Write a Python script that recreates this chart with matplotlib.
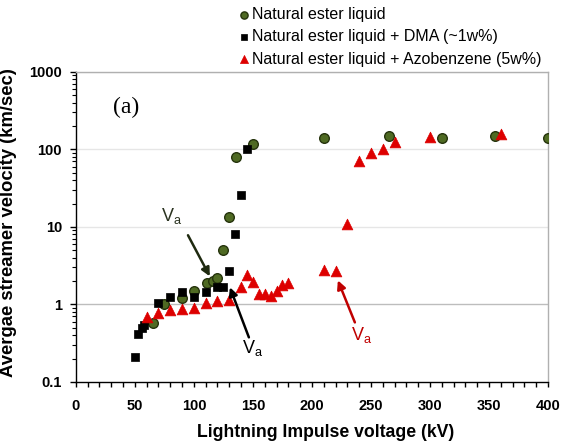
import matplotlib
matplotlib.use("Agg")
import matplotlib.pyplot as plt
from matplotlib.ticker import MultipleLocator, LogLocator, NullFormatter

plt.rcParams['font.family'] = ['Liberation Sans', 'DejaVu Sans']

# Data
ne_x = [65, 75, 90, 100, 111, 116, 120, 125, 130, 136, 150, 210, 265, 310, 355, 400]
ne_y = [0.57, 1.0, 1.2, 1.5, 1.87, 2.0, 2.2, 5.1, 13.3, 79, 116, 139, 150, 142, 150, 139]

dma_x = [50, 53, 56, 58, 70, 80, 90, 100, 110, 120, 125, 130, 135, 140, 145]
dma_y = [0.21, 0.42, 0.50, 0.54, 1.03, 1.23, 1.43, 1.23, 1.43, 1.7, 1.66, 2.66, 8.1, 26, 100]

azo_x = [60, 70, 80, 90, 100, 110, 120, 130, 140, 145, 150, 155, 160, 165, 170, 175, 180,
         210, 220, 230, 240, 250, 260, 270, 300, 360]
azo_y = [0.68, 0.77, 0.84, 0.86, 0.89, 1.03, 1.09, 1.13, 1.66, 2.37, 1.92, 1.35, 1.38, 1.27,
         1.47, 1.76, 1.87, 2.75, 2.66, 10.8, 70, 91, 100, 123, 143, 157]

labels = ["Natural ester liquid",
          "Natural ester liquid + DMA (~1w%)",
          "Natural ester liquid + Azobenzene (5w%)"]
x_ticks = [0, 50, 100, 150, 200, 250, 300, 350, 400]
x_ticklabels = ["0", "50", "100", "150", "200", "250", "300", "350", "400"]
y_ticks = [0.1, 1, 10, 100, 1000]
y_ticklabels = ["0.1", "1", "10", "100", "1000"]

fig = plt.figure(figsize=(5.62, 4.44), dpi=100)
ax = fig.add_axes([0.135, 0.14, 0.84, 0.698])

h1 = ax.scatter(ne_x, ne_y, marker='o', s=48, facecolor='#4f6a23', edgecolor='#25330c',
                linewidth=1.0, zorder=3)
h2 = ax.scatter(dma_x, dma_y, marker='s', s=40, facecolor='black', edgecolor='black',
                linewidth=0.5, zorder=4)
h3 = ax.scatter(azo_x, azo_y, marker='^', s=60, facecolor='#dd0000', edgecolor='#dd0000',
                linewidth=0.5, zorder=5)

ax.set_yscale('log')
ax.set_xlim(0, 400)
ax.set_ylim(0.1, 1000)
ax.set_xticks(x_ticks, labels=x_ticklabels, fontweight='bold', fontsize=10.5)
ax.set_yticks(y_ticks, labels=y_ticklabels, fontweight='bold', fontsize=10.5)
ax.xaxis.set_minor_locator(MultipleLocator(10))
ax.yaxis.set_minor_locator(LogLocator(base=10, subs=range(2, 10)))
ax.yaxis.set_minor_formatter(NullFormatter())
ax.set_xlim(0, 400)
ax.set_ylim(0.1, 1000)

for v in [10, 100, 1000]:
    ax.axhline(v, color='#e6e6e6', lw=1.0, zorder=1)
ax.axhline(1, color='#bdbdbd', lw=1.0, zorder=1)

for s in ['top', 'right']:
    ax.spines[s].set_color('#b0b0b0')
    ax.spines[s].set_linewidth(1.0)
for s in ['left', 'bottom']:
    ax.spines[s].set_color('black')
    ax.spines[s].set_linewidth(1.0)

ax.tick_params(axis='x', which='both', direction='out', length=3.5, width=1, pad=9)
ax.tick_params(axis='y', which='major', direction='out', length=4, width=1, pad=6)
ax.tick_params(axis='y', which='minor', direction='out', length=3, width=0.8)

ax.set_xlabel("Lightning Impulse voltage (kV)", fontsize=12.7, fontweight='bold')
ax.xaxis.set_label_coords(0.528, -0.135)
ax.set_ylabel("Avergae streamer velocity (km/sec)", fontsize=13.3, fontweight='bold')
ax.yaxis.set_label_coords(-0.125, 0.513)

ax.text(0.078, 0.884, "(a)", transform=ax.transAxes, fontsize=17,
        family=['Liberation Serif', 'DejaVu Serif'], va='center', ha='left')

arrow_kw = dict(arrowstyle='-|>,head_length=0.5,head_width=0.25', lw=1.8, shrinkA=0, shrinkB=0)
ax.annotate("", xy=(113.5, 2.3), xytext=(95, 7.8),
            arrowprops=dict(color='#1f2a10', **arrow_kw), zorder=6)
ax.text(81, 14, "V$_\\mathregular{a}$", fontsize=13, color='#2b3320', ha='center', va='center')
ax.annotate("", xy=(130.5, 1.66), xytext=(146.6, 0.375),
            arrowprops=dict(color='black', **arrow_kw), zorder=6)
ax.text(150, 0.27, "V$_\\mathregular{a}$", fontsize=13, color='black', ha='center', va='center')
ax.annotate("", xy=(222, 2.04), xytext=(236.4, 0.585),
            arrowprops=dict(color='#c00000', **arrow_kw), zorder=6)
ax.text(242, 0.40, "V$_\\mathregular{a}$", fontsize=13, color='#c00000', ha='center', va='center')

leg = fig.legend([h1, h2, h3], labels, loc='upper left', bbox_to_anchor=(0.405, 1.0),
                 frameon=False, fontsize=11.5, handletextpad=0.0, labelspacing=0.45,
                 handlelength=1.1, markerscale=0.75, borderaxespad=0.05)

fig.savefig("out.png", dpi=100)
